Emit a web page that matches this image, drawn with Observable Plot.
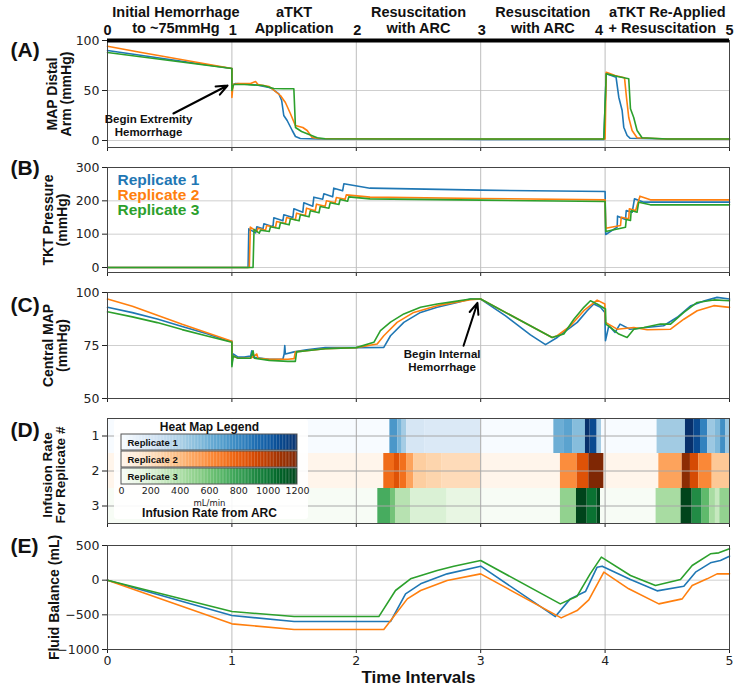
<!DOCTYPE html>
<html><head><meta charset="utf-8">
<script src="https://cdn.jsdelivr.net/npm/d3@7"></script>
<script src="https://cdn.jsdelivr.net/npm/@observablehq/plot@0.6"></script>
<style>
body{margin:0;background:#fff;}
#chart{position:relative;width:741px;height:690px;overflow:hidden;background:#fff;}
</style></head><body><div id="chart"></div>
<script>
// ---------- DATA ----------
const phaseLine1 = ["Initial Hemorrhage","aTKT","Resuscitation","Resuscitation","aTKT Re-Applied"];
const phaseLine2 = ["to ~75mmHg","Application","with ARC","with ARC","+ Resuscitation"];
const phaseCenter1 = [0.55,1.5,2.5,3.5,4.5];
const phaseCenter2 = [0.55,1.5,2.5,3.5,4.46];
const intervalTicks = [0,1,2,3,4,5];
const headerTickShift = [0,1,1,1,-6,0];
const replicateNames = ["Replicate 1","Replicate 2","Replicate 3"];
const replicateColors = ["#1f77b4","#ff7f0e","#2ca02c"];

// (A) MAP distal arm [interval, mmHg]
const mapArm1 = [[0,90],[0.25,85.5],[0.5,81],[0.75,76.5],[1.0,72],[1.0,50],[1.01,56],[1.03,57],[1.1,56.5],[1.2,55.5],[1.3,53],[1.324,51.7],[1.377,46.7],[1.40,40],[1.417,25],[1.444,20],[1.485,10],[1.511,4],[1.55,2],[1.7,1.5],[2.0,1.5],[2.5,1.5],[3.0,1],[3.5,1],[3.99,1],[4.009,66.7],[4.05,65],[4.088,63.3],[4.11,43.3],[4.137,30],[4.15,13.3],[4.177,5],[4.2,2.3],[4.5,1.5],[5.0,1.5]];
const mapArm2 = [[0,94.3],[0.25,88.5],[0.5,83],[0.75,77.5],[1.0,72],[1.0,43],[1.005,50],[1.01,56],[1.05,57],[1.15,57],[1.19,59],[1.21,56],[1.3,54],[1.39,45],[1.43,38],[1.47,27],[1.51,15],[1.57,13],[1.605,10],[1.645,3],[1.70,2],[2.5,1.5],[3.0,1.5],[4.0,1.5],[4.009,68.3],[4.08,65],[4.156,62.7],[4.172,43],[4.19,23],[4.217,10],[4.257,2.7],[4.5,1.5],[5.0,1.5]];
const mapArm3 = [[0,88],[0.25,84],[0.5,80],[0.75,76],[1.0,72],[1.0,50],[1.01,55],[1.02,56],[1.1,56],[1.25,55],[1.337,52],[1.417,51.7],[1.498,51.7],[1.511,13],[1.56,9],[1.605,6.7],[1.686,2.7],[1.75,1.7],[2.5,1.5],[3.0,1.5],[3.99,1.5],[4.009,66.7],[4.1,64],[4.19,61.7],[4.204,31.7],[4.23,23],[4.257,10],[4.297,2.7],[4.5,1.5],[5.0,1.5]];

// (B) TKT pressure [interval, mmHg]
const tkt1 = [[0,0],[1.13,0],[1.136,116],[1.19,104],[1.20,122],[1.25,116],[1.257,131],[1.33,122],[1.337,149],[1.41,140],[1.417,158],[1.49,150],[1.498,176],[1.57,166],[1.578,194],[1.65,184],[1.659,211],[1.73,205],[1.739,221],[1.81,212],[1.819,238],[1.89,230],[1.90,251],[2.11,238],[3.0,232],[4.0,228],[4.005,99],[4.097,121],[4.10,154],[4.164,144],[4.17,171],[4.218,166],[4.236,206],[4.311,196],[5.0,196]];
const tkt2 = [[0,0],[1.14,0],[1.148,121],[1.20,108],[1.21,118],[1.27,112],[1.28,126],[1.35,120],[1.36,138],[1.43,132],[1.44,150],[1.51,143],[1.52,163],[1.59,156],[1.60,178],[1.67,170],[1.68,190],[1.75,184],[1.76,200],[1.83,194],[1.84,210],[1.91,205],[1.92,218],[2.11,211],[3.0,207],[4.0,203],[4.005,118],[4.124,126],[4.13,151],[4.19,146],[4.195,176],[4.245,171],[4.28,214],[4.364,203],[5.0,203]];
const tkt3 = [[0,0],[1.17,0],[1.178,114],[1.22,103],[1.23,112],[1.30,108],[1.31,122],[1.38,117],[1.39,134],[1.46,128],[1.47,146],[1.54,140],[1.55,158],[1.62,152],[1.63,170],[1.70,164],[1.71,183],[1.78,178],[1.79,194],[1.86,189],[1.87,204],[1.93,199],[1.94,212],[2.11,206],[3.0,202],[4.0,198],[4.005,108],[4.164,121],[4.17,144],[4.204,141],[4.21,171],[4.257,166],[4.27,196],[4.364,188],[5.0,188]];

// (C) Central MAP [interval, mmHg]
const cmap1 = [[0,93],[0.2,90.5],[0.4,87.5],[0.6,84],[0.8,80.5],[0.95,77.5],[1.0,77],[1.0,66],[1.01,71],[1.05,69.5],[1.1,69.5],[1.15,70],[1.16,72.5],[1.17,69.5],[1.3,68.5],[1.41,68.5],[1.42,71],[1.425,75],[1.43,71],[1.5,72],[1.6,73],[1.75,74],[2.0,74],[2.221,74.1],[2.275,79.6],[2.382,85.9],[2.516,90.6],[2.65,93],[2.811,95.3],[2.918,96.9],[3.0,96.9],[3.2,89],[3.4,80],[3.521,75.4],[3.615,78.8],[3.776,85.9],[3.856,91.4],[3.909,94.6],[3.963,93],[3.998,90.6],[4.003,77.3],[4.03,84.3],[4.08,81.2],[4.12,85.1],[4.2,82.7],[4.33,83.5],[4.47,84.3],[4.58,88.3],[4.69,93.8],[4.8,96.1],[4.9,97.7],[5.0,96.9]];
const cmap2 = [[0,96.9],[0.2,93.5],[0.4,89.3],[0.6,85],[0.8,81],[1.0,77],[1.0,68],[1.01,70],[1.05,69],[1.15,69],[1.2,71],[1.21,69],[1.3,68.5],[1.45,68.5],[1.5,68.8],[1.51,72],[1.6,72.5],[1.75,73.5],[2.0,74],[2.168,75.7],[2.221,79.6],[2.328,85.9],[2.462,90.6],[2.65,93.8],[2.918,96.6],[3.0,96.9],[3.574,78.8],[3.615,79.6],[3.722,84.3],[3.829,91.4],[3.936,96.4],[3.998,94.6],[4.003,85.9],[4.097,82.7],[4.231,83.5],[4.338,82.4],[4.526,82.7],[4.633,87.4],[4.74,91.4],[4.874,93.8],[5.0,93]];
const cmap3 = [[0,90.9],[0.2,88.5],[0.4,85.8],[0.6,82.5],[0.8,79.5],[1.0,76.5],[1.0,65],[1.01,70],[1.05,69],[1.15,69],[1.17,72.5],[1.18,69],[1.3,68],[1.45,67.5],[1.51,67.5],[1.52,72],[1.6,72.5],[1.75,73.5],[2.0,74],[2.141,76.5],[2.194,82],[2.275,86],[2.382,89.9],[2.516,93],[2.65,94.6],[2.784,95.7],[2.918,96.9],[3.0,96.9],[3.574,78.8],[3.668,80.4],[3.749,87.4],[3.829,93],[3.882,96.1],[3.936,94.6],[4.003,92.2],[4.006,85.1],[4.043,83.5],[4.11,80.4],[4.177,78.8],[4.231,82.7],[4.311,83.5],[4.445,85.1],[4.526,85.1],[4.633,90.6],[4.74,95.3],[4.874,96.5],[5.0,96.1]];

// (D) Infusion rate cells [start, end, mL/min]
const rep1Cells = [[2.27,2.333,720],[2.333,2.369,560],[2.369,2.404,420],[2.404,2.55,200],[2.55,2.998,170],[3.588,3.667,600],[3.667,3.743,660],[3.743,3.842,520],[3.842,3.88,1200],[3.88,3.936,1080],[3.936,3.971,420],[4.418,4.646,430],[4.646,4.713,1200],[4.713,4.767,1080],[4.767,4.826,820],[4.826,4.887,450],[4.887,4.928,540],[4.928,4.968,760],[4.968,5.0,450]];
const rep2Cells = [[2.221,2.307,740],[2.307,2.35,860],[2.35,2.404,720],[2.404,2.463,500],[2.463,2.57,300],[2.57,2.69,260],[2.69,3.0,220],[3.641,3.775,600],[3.775,3.869,860],[3.869,3.99,1200],[4.432,4.62,500],[4.62,4.686,1150],[4.686,4.753,900],[4.753,4.861,620],[4.861,5.0,330]];
const rep3Cells = [[2.173,2.275,740],[2.275,2.315,600],[2.315,2.436,360],[2.436,2.73,200],[2.73,3.0,120],[3.641,3.77,500],[3.77,3.856,1200],[3.856,3.936,1020],[3.936,3.963,1200],[4.41,4.611,420],[4.611,4.7,1200],[4.7,4.78,900],[4.78,4.84,660],[4.84,4.887,420],[4.887,4.922,300],[4.922,5.0,500]];
const heatRows = [1,2,3];
const legendTicks = [0,200,400,600,800,1000,1200];

// (E) Fluid balance [interval, mL]
const fluid1 = [[0,0],[1.0,-510],[1.5,-597],[2.275,-597],[2.396,-197],[2.517,-53],[2.73,91],[3.0,202],[3.6,-525],[3.72,-270],[3.842,-164],[3.936,187],[3.976,202],[4.204,9],[4.418,-154],[4.633,-87],[4.727,115],[4.847,250],[4.927,284],[5.0,346]];
const fluid2 = [[0,0],[1.0,-630],[1.5,-712],[2.221,-712],[2.41,-270],[2.517,-149],[2.73,-5],[3.0,91],[3.647,-544],[3.775,-438],[3.869,-284],[3.99,115],[4.19,-125],[4.432,-342],[4.62,-270],[4.7,-77],[4.82,19],[4.9,91],[5.0,91]];
const fluid3 = [[0,0],[1.0,-452],[1.5,-525],[2.181,-525],[2.315,-149],[2.436,19],[2.65,139],[2.784,202],[3.0,283],[3.64,-342],[3.775,-231],[3.88,91],[3.97,332],[4.204,67],[4.405,-77],[4.606,9],[4.7,211],[4.847,380],[4.914,394],[5.0,452]];

// annotations
const noteA = {text:"Begin Extremity\nHemorrhage", x:0.33, y:15, arrow:[0.53,27,0.965,55]};
const noteC = {text:"Begin Internal\nHemorrhage", x:2.69, y:68, arrow:[2.862,74.9,2.974,95.1]};

// ---------- DRAW ----------
const chart = document.getElementById("chart");
const W = 741, ML = 107, MR = 12;
const BOLD = "Liberation Sans, Arial, sans-serif";
const NARROW = "Liberation Sans Narrow, Arial Narrow, Liberation Sans, sans-serif";
const TICKF = "DejaVu Sans, sans-serif";
const ramps = [d3.interpolateBlues, d3.interpolateOranges, d3.interpolateGreens];
const fmtMinus = d => d < 0 ? "\u2212" + Math.abs(d) : String(d);

function place(svg, top, left = 0) {
  svg.style.position = "absolute"; svg.style.top = top + "px"; svg.style.left = left + "px";
  chart.appendChild(svg);
}
function base(o) {
  return Object.assign({width: W, marginLeft: ML, marginRight: MR,
    style: {fontFamily: TICKF, fontSize: "12px", color: "#222", background: "transparent", overflow: "visible"}}, o);
}
function lines(series) {
  return series.map((s, i) => Plot.line(s, {x: d => d[0], y: d => d[1], stroke: replicateColors[i], strokeWidth: 1.6}));
}
function yLabel(text, dx, dy = 0, size = 14) {
  return Plot.text([text], {text: d => d, frameAnchor: "left", dx, dy, rotate: -90, textAnchor: "middle", lineAnchor: "middle", fontWeight: "bold", fontSize: size, lineHeight: 1.0, fontFamily: BOLD, fill: "#111"});
}
function tag(t, dy) {
  return Plot.text([t], {text: d => d, frameAnchor: "top-left", dx: -97, dy, textAnchor: "start", lineAnchor: "middle", fontSize: 21, fontWeight: "bold", fontFamily: BOLD, fill: "#111"});
}
function frameMarks(gridY) {
  return [
    Plot.gridY(gridY, {stroke: "#cfcfcf", strokeOpacity: 1}),
    Plot.gridX([1,2,3,4], {stroke: "#bdbdbd", strokeOpacity: 1}),
  ];
}
function axes(yt, fmt = String, showX = false) {
  return [
    Plot.axisY(yt, {tickSize: 5, tickPadding: 3, tickFormat: fmt, label: null, fontSize: 12.5, fontFamily: TICKF}),
    Plot.axisX(intervalTicks, {tickSize: 4, tickPadding: 3, tickFormat: showX ? String : () => "", label: null, fontSize: 12.5, fontFamily: TICKF}),
    Plot.frame({stroke: "#444", strokeWidth: 1})
  ];
}
function note(n) {
  return [
    Plot.arrow([n.arrow], {x1: d => d[0], y1: d => d[1], x2: d => d[2], y2: d => d[3], stroke: "black", strokeWidth: 2, headLength: 9, headAngle: 45}),
    Plot.text([n], {x: "x", y: "y", text: "text", lineAnchor: "middle", fontWeight: "bold", fontSize: 11.5, lineHeight: 1.1, fontFamily: BOLD, fill: "#111"})
  ];
}
const headerStyle = {frameAnchor: "top", lineAnchor: "middle", fontSize: 14.5, fontWeight: "bold", fontFamily: NARROW, fill: "#111"};

// Panel A
place(Plot.plot(base({
  height: 152, marginTop: 40, marginBottom: 5,
  x: {domain: [0,5]}, y: {domain: [-7,100]},
  marks: [
    ...frameMarks([0,50,100]),
    ...lines([mapArm1, mapArm2, mapArm3]),
    ...axes([0,50,100]),
    Plot.ruleY([100], {stroke: "black", strokeWidth: 4}),
    Plot.text(phaseLine1, {x: (d,i) => phaseCenter1[i], text: d => d, dy: -28.5, ...headerStyle}),
    Plot.text(phaseLine2, {x: (d,i) => phaseCenter2[i], text: d => d, dy: -12, ...headerStyle}),
    ...intervalTicks.map((t, i) => Plot.text([t], {x: d => d, text: d => String(d), dx: headerTickShift[i], dy: -10, ...headerStyle})),
    ...note(noteA),
    yLabel("MAP Distal\nArm (mmHg)", -47.5),
    tag("(A)", 10)
  ]
})), 0);

// Panel B
place(Plot.plot(base({
  height: 128, marginTop: 20, marginBottom: 3,
  x: {domain: [0,5]}, y: {domain: [-15,300]},
  marks: [
    ...frameMarks([0,100,200,300]),
    ...lines([tkt1, tkt2, tkt3]),
    ...axes([0,100,200,300]),
    Plot.text(replicateNames, {x: 0.08, y: (d,i) => [263,216,171][i], text: d => d, textAnchor: "start", fill: (d,i) => replicateColors[i], fontSize: 15.5, fontWeight: "bold", fontFamily: BOLD}),
    yLabel("TKT Pressure\n(mmHg)", -52),
    tag("(B)", 1)
  ]
})), 147);

// Panel C
place(Plot.plot(base({
  height: 128, marginTop: 17, marginBottom: 5,
  x: {domain: [0,5]}, y: {domain: [50,100]},
  marks: [
    ...frameMarks([50,75,100]),
    ...lines([cmap1, cmap2, cmap3]),
    ...axes([50,75,100]),
    ...note(noteC),
    yLabel("Central MAP\n(mmHg)", -52),
    tag("(C)", 13)
  ]
})), 275);

// Panel D
const cellsAll = [rep1Cells, rep2Cells, rep3Cells].flatMap((cells, i) => cells.map(c => ({row: i + 1, t0: c[0], t1: c[1], rate: c[2]})));
place(Plot.plot(base({
  height: 125, marginTop: 15, marginBottom: 5,
  x: {domain: [0,5]}, y: {domain: [3.5,0.5]},
  color: {type: "identity"},
  marks: [
    Plot.rect(heatRows, {x1: 0, x2: 5, y1: d => d - 0.5, y2: d => d + 0.5, fill: d => ramps[d - 1](0)}),
    Plot.rect(cellsAll, {x1: "t0", x2: "t1", y1: d => d.row - 0.5, y2: d => d.row + 0.5, fill: d => ramps[d.row - 1](d.rate / 1200)}),
    Plot.gridY(heatRows, {stroke: "#a8a8a8", strokeOpacity: 1}),
    Plot.gridX([1,2,3,4], {stroke: "#a8a8a8", strokeOpacity: 1}),
    ...axes(heatRows),
    yLabel("Infusion Rate\nFor Replicate #", -53.5, 4, 13.5),
    tag("(D)", 11.5)
  ]
})), 403);

// Heat map legend
const legendSlices = [];
replicateNames.forEach((r, i) => d3.range(0, 1200, 10).forEach(v => legendSlices.push({r, i, v})));
const leg = Plot.plot({
  width: 194, height: 100, marginLeft: 7, marginRight: 11, marginTop: 13, marginBottom: 34,
  x: {domain: [0,1200]}, y: {domain: replicateNames, padding: 0.07, axis: null},
  color: {type: "identity"},
  style: {fontFamily: TICKF, fontSize: "10px", color: "#222", background: "rgba(255,255,255,0.9)", overflow: "visible"},
  marks: [
    Plot.barX(legendSlices, {x1: "v", x2: d => Math.min(d.v + 11, 1200), y: "r", fill: d => ramps[d.i](d.v / 1200)}),
    Plot.barX(replicateNames, {x1: 0, x2: 1200, y: d => d, fill: "none", stroke: "#555", strokeWidth: 1}),
    Plot.text(replicateNames, {x: 0, y: d => d, text: d => d, dx: 6, textAnchor: "start", fontWeight: "bold", fontSize: 9.5, fontFamily: BOLD, fill: "#111"}),
    Plot.axisX(legendTicks, {tickSize: 0, tickPadding: 2, tickFormat: String, label: null, fontSize: 9.5, fontFamily: TICKF}),
    Plot.text(["Heat Map Legend"], {text: d => d, frameAnchor: "top", lineAnchor: "middle", dy: -5, fontWeight: "bold", fontSize: 12, fontFamily: BOLD, fill: "#111"}),
    Plot.text(["mL/min"], {text: d => d, frameAnchor: "bottom", lineAnchor: "middle", dy: 17.5, fontSize: 8.5, fontFamily: TICKF}),
    Plot.text(["Infusion Rate from ARC"], {text: d => d, frameAnchor: "bottom", lineAnchor: "middle", dy: 28, fontWeight: "bold", fontSize: 12, fontFamily: BOLD, fill: "#111"})
  ]
});
leg.style.borderRadius = "3px";
place(leg, 419, 114);

// Panel E
place(Plot.plot(base({
  height: 162, marginTop: 17, marginBottom: 41,
  x: {domain: [0,5]}, y: {domain: [-1000,500]},
  marks: [
    ...frameMarks([-1000,-500,0,500]),
    ...lines([fluid1, fluid2, fluid3]),
    ...axes([-1000,-500,0,500], fmtMinus, true),
    Plot.text(["Time Intervals"], {text: d => d, frameAnchor: "bottom", lineAnchor: "middle", dy: 28, fontSize: 17, fontWeight: "bold", fontFamily: BOLD, fill: "#111"}),
    yLabel("Fluid Balance (mL)", -53),
    tag("(E)", 1)
  ]
})), 528);
</script></body></html>
